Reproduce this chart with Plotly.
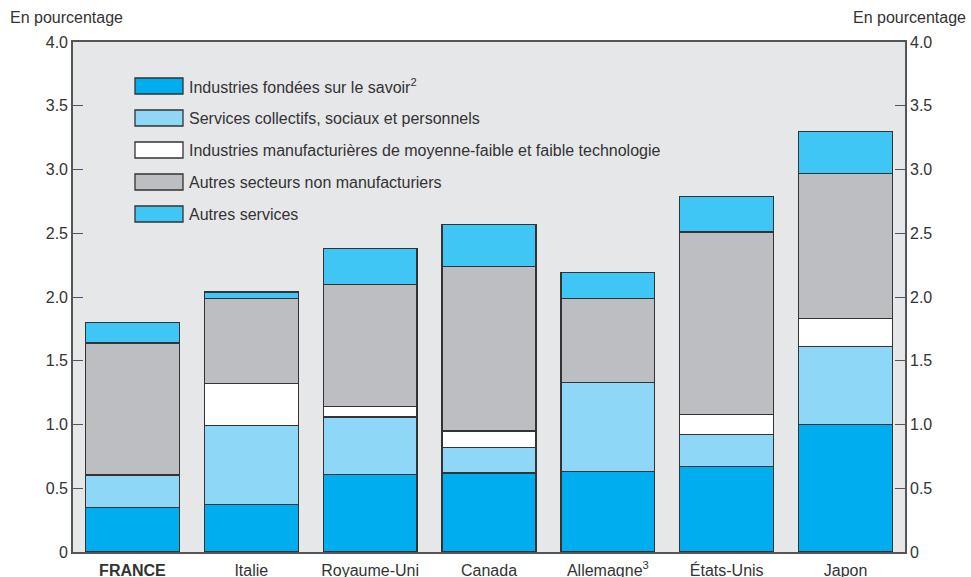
import plotly.graph_objects as go

categories = ["<b>FRANCE</b>", "Italie", "Royaume-Uni", "Canada", "Allemagne<sup>3</sup>", "États-Unis", "Japon"]

series_names = [
    "Industries fondées sur le savoir<sup>2</sup>",
    "Services collectifs, sociaux et personnels",
    "Industries manufacturières de moyenne-faible et faible technologie",
    "Autres secteurs non manufacturiers",
    "Autres services",
]

savoir = [0.35, 0.37, 0.61, 0.62, 0.63, 0.67, 1.00]
collectifs = [0.25, 0.62, 0.45, 0.20, 0.70, 0.25, 0.61]
manuf = [0.01, 0.33, 0.08, 0.13, 0.00, 0.16, 0.22]
non_manuf = [1.03, 0.67, 0.96, 1.29, 0.66, 1.43, 1.14]
autres_services = [0.16, 0.05, 0.28, 0.33, 0.20, 0.28, 0.33]

series_values = [savoir, collectifs, manuf, non_manuf, autres_services]
colors = ["#00adee", "#8fd7f6", "#ffffff", "#bdbec2", "#40c6f4"]

tick_vals = [0, 0.5, 1.0, 1.5, 2.0, 2.5, 3.0, 3.5, 4.0]
tick_text = ["0", "0.5", "1.0", "1.5", "2.0", "2.5", "3.0", "3.5", "4.0"]

font_family = "Liberation Sans, Arial, sans-serif"
text_color = "#333333"

fig = go.Figure()
for name, vals, col in zip(series_names, series_values, colors):
    fig.add_trace(go.Bar(
        x=categories, y=vals, name=name,
        marker=dict(color=col, line=dict(color="#333333", width=1.3)),
        showlegend=False,
    ))

# invisible trace to activate right axis
fig.add_trace(go.Scatter(x=categories, y=[None] * len(categories), yaxis="y2",
                         showlegend=False, hoverinfo="skip"))

# custom legend
shapes = []
annotations = []
for i, (name, col) in enumerate(zip(series_names, colors)):
    yc = 1 - (86 - 42 + 32 * i) / 510.0
    h = 8 / 510.0
    shapes.append(dict(type="rect", xref="paper", yref="paper",
                       x0=(135 - 73) / 832.0, x1=(183 - 73) / 832.0,
                       y0=yc - h, y1=yc + h,
                       fillcolor=col, line=dict(color="#333333", width=1.3)))
    annotations.append(dict(xref="paper", yref="paper", x=(187 - 73) / 832.0, y=yc,
                            text=name, showarrow=False, xanchor="left", yanchor="middle",
                            font=dict(family=font_family, size=16, color=text_color)))

annotations.append(dict(xref="paper", yref="paper", x=(8 - 73) / 832.0, y=(552 - 18) / 510.0,
                        text="En pourcentage", showarrow=False, xanchor="left", yanchor="middle",
                        font=dict(family=font_family, size=16, color=text_color)))
annotations.append(dict(xref="paper", yref="paper", x=(968 - 73) / 832.0, y=(552 - 18) / 510.0,
                        text="En pourcentage", showarrow=False, xanchor="right", yanchor="middle",
                        font=dict(family=font_family, size=16, color=text_color)))

axis_common = dict(range=[0, 4], tickvals=tick_vals, ticktext=tick_text,
                   ticks="inside", ticklen=10, tickcolor="#555555", tickwidth=1.3,
                   showgrid=False, zeroline=False,
                   showline=True, linecolor="#555555", linewidth=1.6,
                   tickfont=dict(family=font_family, size=16, color=text_color))

fig.update_layout(
    width=971, height=577,
    barmode="stack", bargap=0.21,
    plot_bgcolor="#e6e7e9", paper_bgcolor="#ffffff",
    margin=dict(l=73, r=66, t=42, b=25),
    xaxis=dict(showline=True, linecolor="#555555", linewidth=1.6, mirror=True,
               ticks="", showgrid=False, automargin=False, ticklabelstandoff=3,
               tickfont=dict(family=font_family, size=16, color=text_color)),
    yaxis=dict(**axis_common, side="left", automargin=False),
    yaxis2=dict(**axis_common, side="right", overlaying="y", automargin=False),
    shapes=shapes, annotations=annotations,
    font=dict(family=font_family, color=text_color),
)

fig.write_html("out.html", config={"displayModeBar": False},
               post_script="document.body.style.margin='0px';")
